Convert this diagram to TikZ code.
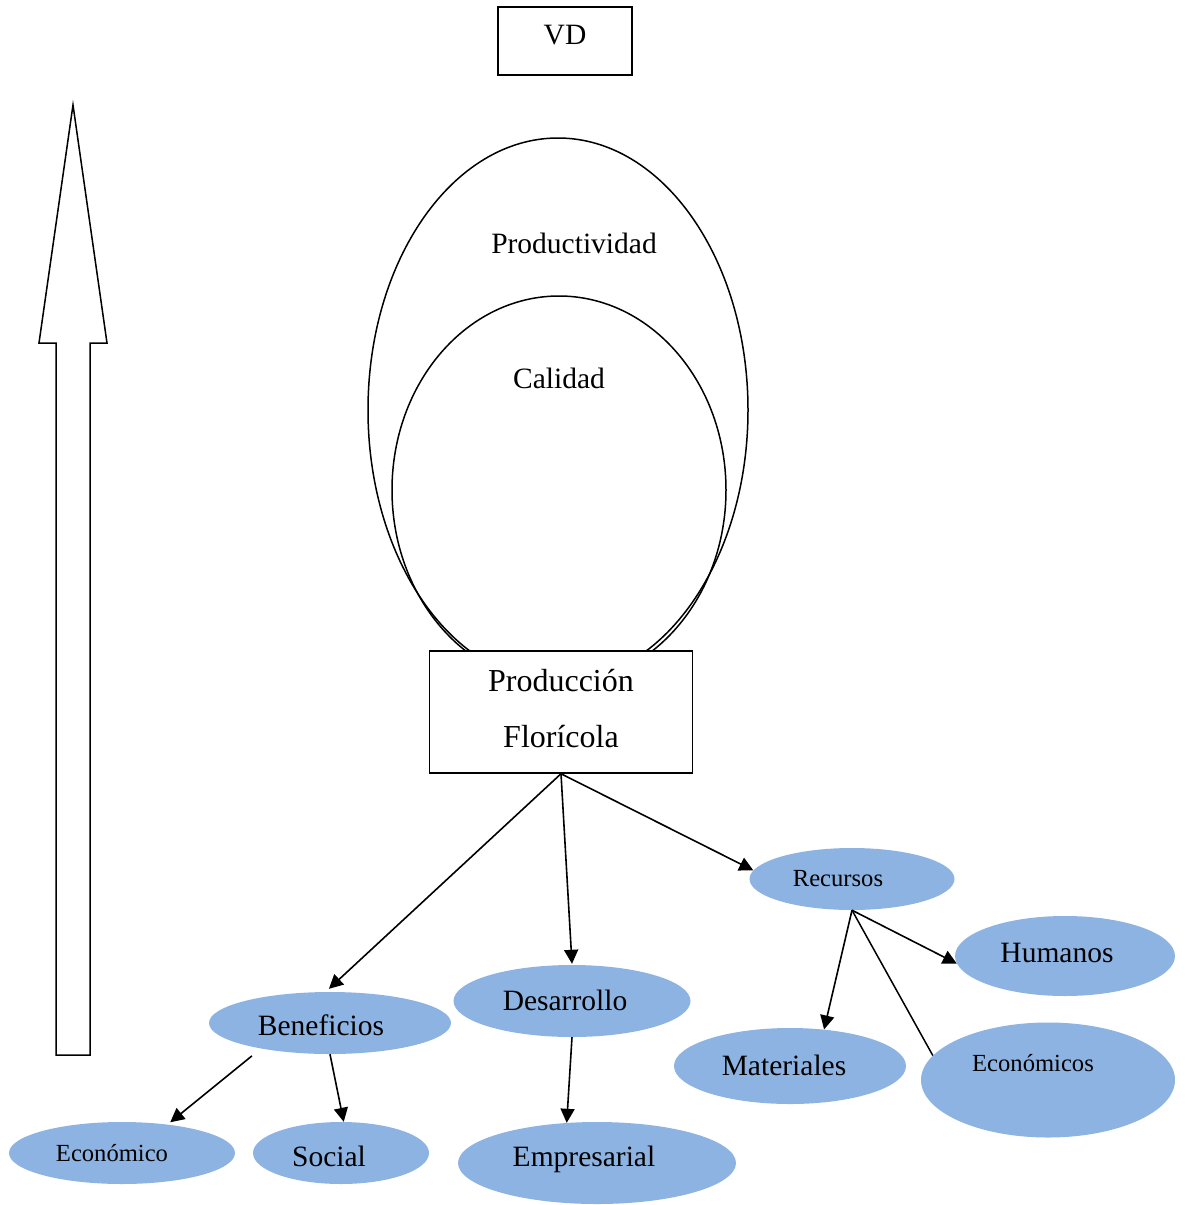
\documentclass[tikz,border=0pt]{standalone}
\usepackage{fontspec}
\setmainfont{Liberation Serif}
\usetikzlibrary{shapes.geometric,arrows.meta}
\definecolor{blobblue}{HTML}{8DB3E2}
\tikzset{
  blob/.style={ellipse, fill=blobblue, inner sep=0pt},
  outline/.style={draw, line width=1.5pt, inner sep=0pt},
  lbl/.style={font=\fontsize{29.5}{35}\selectfont, inner sep=0pt},
  biglbl/.style={font=\fontsize{32}{56}\selectfont, inner sep=0pt, align=center},
  smalllbl/.style={font=\fontsize{24.6}{30}\selectfont, inner sep=0pt},
  link/.style={line width=1.6pt, -{Triangle[length=14pt,width=14pt]}},
  plain/.style={line width=1.5pt},
}
\begin{document}
\begin{tikzpicture}[x=1pt,y=-1pt]
\useasboundingbox (0,0) rectangle (1184,1205);

% upward arrow on the left
\draw[plain, fill=white] (56,1055) -- (56,343) -- (39,343) -- (73,105)
  -- (107,343) -- (90,343) -- (90,1055) -- cycle;

% VD box
\node[outline, minimum width=134pt, minimum height=68pt] (vd) at (565,41) {};
\node[lbl] (vdtxt) at (565,35) {VD};

% nested ellipses
\node[outline, ellipse, minimum width=380pt, minimum height=544pt] (prodv) at (558,410) {};
\node[outline, ellipse, minimum width=334pt, minimum height=388pt] (cal) at (559,490) {};
\node[lbl] (prodvtxt) at (574,243) {Productividad};
\node[lbl] (caltxt) at (559,378) {Calidad};

% central box
\node[outline, fill=white, minimum width=263pt, minimum height=122pt] (prod) at (561,712) {};
\node[biglbl] (prodtxt) at (561,709) {Producción\\Florícola};

% blue ellipses
\node[blob, minimum width=205pt, minimum height=62pt] (rec) at (852,879) {};
\node[smalllbl] at (838,879) {Recursos};
\node[blob, minimum width=220pt, minimum height=80pt] (hum) at (1065,956) {};
\node[lbl] at (1057,953) {Humanos};
\node[blob, minimum width=254pt, minimum height=115pt] (ecos) at (1048,1080) {};
\node[smalllbl] at (1033,1063) {Económicos};
\node[blob, minimum width=232pt, minimum height=76pt] (mat) at (790,1066) {};
\node[lbl] at (784,1065) {Materiales};
\node[blob, minimum width=237pt, minimum height=72pt] (des) at (572,1001) {};
\node[lbl] at (565,1000) {Desarrollo};
\node[blob, minimum width=278pt, minimum height=82pt] (emp) at (597,1163) {};
\node[lbl] at (584,1159) {Empresarial};
\node[blob, minimum width=242pt, minimum height=62pt] (ben) at (330,1023) {};
\node[lbl] at (321,1025) {Beneficios};
\node[blob, minimum width=226pt, minimum height=62pt] (eco) at (122,1153) {};
\node[smalllbl] at (112,1153) {Económico};
\node[blob, minimum width=176pt, minimum height=62pt] (soc) at (341,1153) {};
\node[lbl] at (329,1156) {Social};

% connectors
\draw[link] (prod.south) -- ([yshift=3pt]ben.92);
\draw[link] (prod.south) -- ([yshift=1pt]des.north);
\draw[link] (prod.south) -- (rec.175);
\draw[link] (rec.south) -- (hum.184);
\draw[link] (rec.south) -- (mat.47);
\draw[plain] (rec.south) -- (ecos.168);
\draw[link] ([yshift=-9pt]ben.197) -- ([xshift=4pt,yshift=2pt]eco.33);
\draw[link] (ben.south) -- (soc.85);
\draw[link] (des.south) -- (emp.127);
\end{tikzpicture}
\end{document}
